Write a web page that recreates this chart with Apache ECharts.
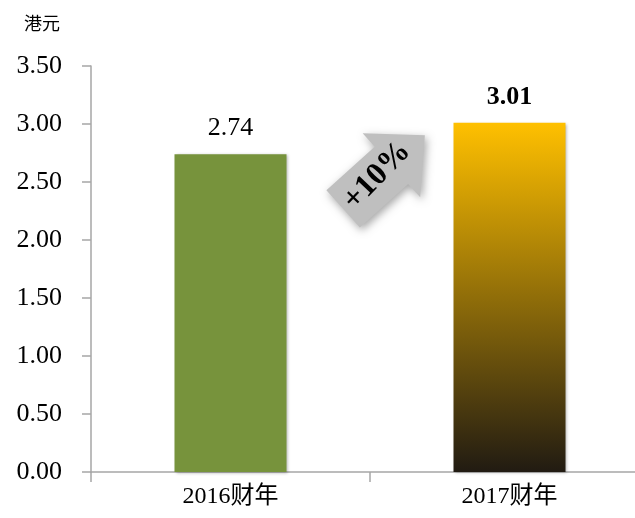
<!DOCTYPE html>
<html>
<head>
<meta charset="utf-8">
<script src="https://cdn.jsdelivr.net/npm/echarts@6/dist/echarts.min.js"></script>
<style>
  html, body { margin: 0; padding: 0; background: #fff; }
  #chart { width: 635px; height: 518px; }
</style>
</head>
<body>
<div id="chart"></div>
<script>
var categories = ['2016财年', '2017财年'];
var values = [2.74, 3.01];
var yTicks = [0, 0.5, 1, 1.5, 2, 2.5, 3, 3.5];
var unitLabel = '港元';
var growthLabel = '+10%';

var serif = '"Liberation Serif", "Times New Roman", "Noto Sans CJK SC", serif';

var chart = echarts.init(document.getElementById('chart'));

var arrowAngle = 42 * Math.PI / 180;

var option = {
    animation: false,
    title: {
        text: unitLabel,
        left: 19,
        top: 11,
        textStyle: { fontSize: 18, fontWeight: 'normal', color: '#000', fontFamily: serif }
    },
    grid: { left: 91, right: -14, top: 66, bottom: 46, outerBoundsMode: 'none', containLabel: false },
    xAxis: {
        type: 'category',
        data: categories,
        axisLine: { lineStyle: { color: '#A6A6A6', width: 1.5 } },
        axisTick: { show: true, length: 10, lineStyle: { color: '#A6A6A6', width: 1.5 } },
        axisLabel: { fontSize: 24, color: '#000', fontFamily: serif, margin: 13 }
    },
    yAxis: {
        type: 'value',
        min: yTicks[0],
        max: yTicks[yTicks.length - 1],
        interval: 0.5,
        splitLine: { show: false },
        axisLine: { show: true, lineStyle: { color: '#A6A6A6', width: 1.5 } },
        axisTick: { show: true, length: 9, lineStyle: { color: '#A6A6A6', width: 1.5 } },
        axisLabel: {
            fontSize: 26, color: '#000', fontFamily: serif, margin: 29,
            formatter: function (v) { return v.toFixed(2); }
        }
    },
    series: [{
        type: 'bar',
        barWidth: 112,
        data: [
            {
                value: values[0],
                itemStyle: { color: '#77933C' },
                label: { fontWeight: 'normal' }
            },
            {
                value: values[1],
                itemStyle: {
                    color: new echarts.graphic.LinearGradient(0, 0, 0, 1, [
                        { offset: 0, color: '#FFC000' },
                        { offset: 1, color: '#211B12' }
                    ])
                },
                label: { fontWeight: 'bold' }
            }
        ],
        itemStyle: {
            shadowBlur: 3,
            shadowColor: 'rgba(0,0,0,0.3)',
            shadowOffsetX: 1,
            shadowOffsetY: 1
        },
        label: {
            show: true,
            position: 'top',
            distance: 13,
            fontSize: 26,
            color: '#000',
            fontFamily: serif,
            formatter: function (p) { return p.value.toFixed(2); }
        }
    }],
    graphic: [
        {
            type: 'polygon',
            x: 384,
            y: 172,
            rotation: arrowAngle,
            shape: {
                points: [
                    [-55, -25], [10, -25], [10, -43], [55, 0],
                    [10, 43], [10, 25], [-55, 25]
                ]
            },
            style: {
                fill: '#BFBFBF',
                shadowBlur: 8,
                shadowColor: 'rgba(0,0,0,0.35)',
                shadowOffsetX: 2,
                shadowOffsetY: 3
            },
            z: 10
        },
        {
            type: 'text',
            x: 377,
            y: 176,
            rotation: arrowAngle + 4 * Math.PI / 180,
            style: {
                text: growthLabel,
                font: 'bold 32px ' + serif,
                fill: '#000',
                textAlign: 'center',
                textVerticalAlign: 'middle'
            },
            z: 11
        }
    ]
};

chart.setOption(option);
</script>
</body>
</html>
